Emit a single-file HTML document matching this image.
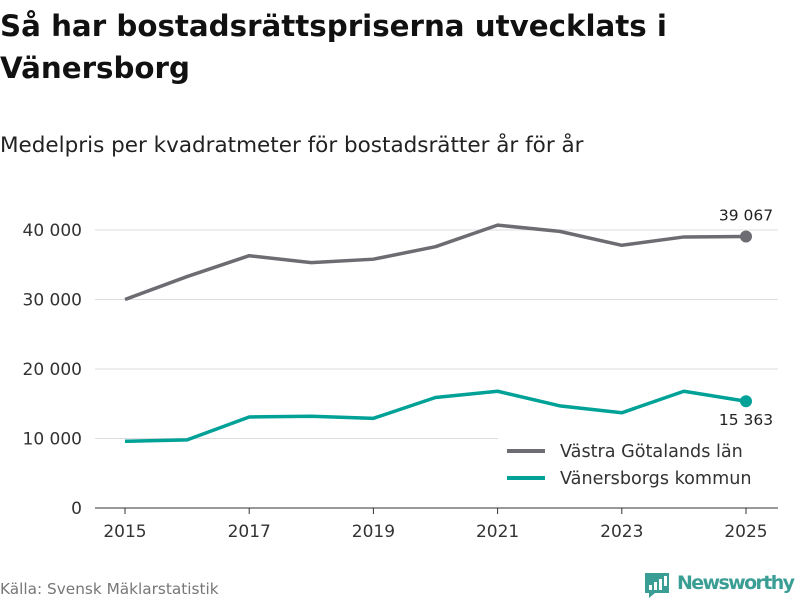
<!DOCTYPE html>
<html><head><meta charset="utf-8"><style>
body{margin:0;width:800px;height:600px;background:#fff;font-family:"DejaVu Sans","Liberation Sans",sans-serif;overflow:hidden}
</style></head><body>
<svg width="800" height="600" xmlns="http://www.w3.org/2000/svg">
<text x="0" y="36" font-size="29.3" font-weight="bold" fill="#111">Så har bostadsrättspriserna utvecklats i</text>
<text x="0" y="78" font-size="29.3" font-weight="bold" fill="#111">Vänersborg</text>
<text x="0" y="152" font-size="21.5" fill="#222">Medelpris per kvadratmeter för bostadsrätter år för år</text>
<g id="grid"></g><g id="series"></g><g id="xt"></g>
<g>
<rect x="498" y="434" width="282" height="60" fill="#fff"/>
<line x1="507" y1="451" x2="545" y2="451" stroke="#6d6c72" stroke-width="4"/>
<text x="560" y="457" font-size="17.6" fill="#333">Västra Götalands län</text>
<line x1="507" y1="478" x2="545" y2="478" stroke="#00a197" stroke-width="4"/>
<text x="560" y="484" font-size="17.6" fill="#333">Vänersborgs kommun</text>
</g>
<text x="0" y="594" font-size="15.3" fill="#777">Källa: Svensk Mäklarstatistik</text>
<g>
<path d="M645 573h24v20h-14l-6 5v-5h-4z" fill="#3a9e95"/>
<rect x="649" y="585" width="3" height="5" fill="#fff"/><rect x="654" y="582" width="3" height="8" fill="#fff"/><rect x="659" y="579" width="3" height="11" fill="#fff"/><rect x="664" y="576" width="3" height="10" fill="#fff"/>
<text x="677" y="589" font-size="19" font-weight="bold" fill="#3a9e95" textLength="118">Newsworthy</text>
</g>
</svg>
<script>
const years=[2015,2016,2017,2018,2019,2020,2021,2022,2023,2024,2025];
const vastra=[30000,33300,36300,35300,35800,37600,40700,39800,37800,39000,39067];
const vaners=[9600,9800,13100,13200,12900,15900,16800,14700,13700,16800,15363];
const yTicks=[0,10000,20000,30000,40000];
const yTickLabels=["0","10 000","20 000","30 000","40 000"];
const xTicks=[2015,2017,2019,2021,2023,2025];
const NS="http://www.w3.org/2000/svg";
const X=y=>125+(y-2015)*(746-125)/10;
const Y=v=>508-v*(508-230)/40000;
function mk(t,a,p){const e=document.createElementNS(NS,t);for(const k in a)e.setAttribute(k,a[k]);p.appendChild(e);return e;}
const g=document.getElementById('grid');
yTicks.forEach((v,i)=>{
 const l=mk('line',{x1:95,x2:778,y1:Y(v),y2:Y(v),stroke:v===0?'#333':'#ddd','stroke-width':1},g);
 
 
 const t=mk('text',{x:82,y:Y(v)+6,'text-anchor':'end','font-size':17,fill:'#333'},g);
 t.textContent=yTickLabels[i];
 
 
});
const xg=document.getElementById('xt');
xTicks.forEach(y=>{
 mk('line',{x1:X(y),x2:X(y),y1:508,y2:514,stroke:'#333'},xg);
 const t=mk('text',{x:X(y),y:537,'text-anchor':'middle','font-size':17,fill:'#333'},xg);
 t.textContent=y;
 
 
});
const s=document.getElementById('series');
[[vastra,'#6d6c72','vastra-line'],[vaners,'#00a197','vanersborg-line']].forEach(([d,c,n])=>{
 const p=mk('polyline',{points:d.map((v,i)=>X(years[i])+','+Y(v)).join(' '),fill:'none',stroke:c,'stroke-width':3.5,'stroke-linejoin':'round'},s);
 
 
 const last=d.length-1;
 const ci=mk('circle',{cx:X(years[last]),cy:Y(d[last]),r:6,fill:c},s);
 
 
});
function fmt(v){return String(v).replace(/\B(?=(\d{3})+(?!\d))/g,' ');}
const l1=mk('text',{x:X(2025),y:Y(vastra[10])-16,'text-anchor':'middle','font-size':15.5,fill:'#222'},s);
l1.textContent=fmt(vastra[10]);


const l2=mk('text',{x:X(2025),y:Y(vaners[10])+24,'text-anchor':'middle','font-size':15.5,fill:'#222'},s);
l2.textContent=fmt(vaners[10]);


</script>
</body></html>
